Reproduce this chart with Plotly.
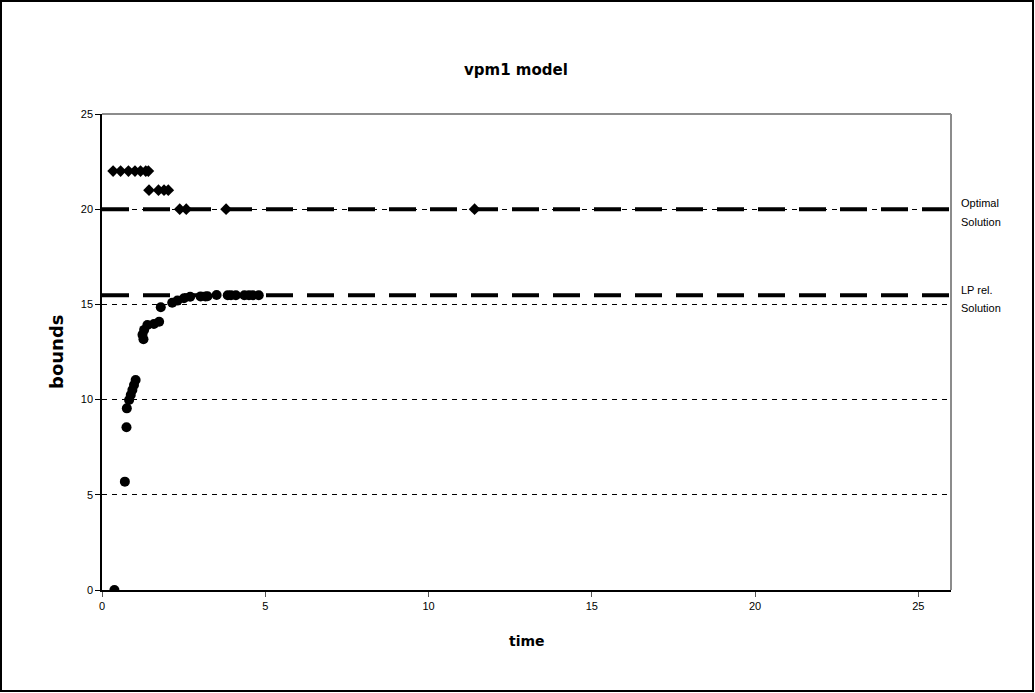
import plotly.graph_objects as go

# ---- data ----
ub_time = [0.34, 0.57, 0.81, 1.01, 1.18, 1.34, 1.42, 1.44, 1.73, 1.90, 2.03, 2.38, 2.58, 3.80, 11.41]
ub_vals = [22, 22, 22, 22, 22, 22, 22, 21, 21, 21, 21, 20, 20, 20, 20]

lb_time = [0.38, 0.70, 0.75, 0.76, 0.83, 0.88, 0.93, 0.98, 1.03, 1.24, 1.27, 1.29, 1.39, 1.59,
           1.75, 1.80, 2.15, 2.31, 2.51, 2.70, 3.02, 3.17, 3.23, 3.51, 3.85, 3.95, 4.10, 4.36,
           4.50, 4.62, 4.80]
lb_vals = [0, 5.69, 8.55, 9.54, 9.98, 10.24, 10.5, 10.77, 11.03, 13.4, 13.17, 13.66, 13.92, 13.97,
           14.09, 14.85, 15.09, 15.2, 15.32, 15.4, 15.42, 15.42, 15.43, 15.49, 15.48, 15.48, 15.48,
           15.48, 15.48, 15.48, 15.48]

optimal = 20
lp_rel = 15.48
x_range = [0, 26]
y_range = [0, 25]
x_ticks = [0, 5, 10, 15, 20, 25]
y_ticks = [0, 5, 10, 15, 20, 25]

FONT = "Arial, Liberation Sans, sans-serif"
WIDE = "DejaVu Sans, Arial, sans-serif"

fig = go.Figure()

# reference lines
for val in (optimal, lp_rel):
    fig.add_trace(go.Scatter(
        x=x_range, y=[val, val], mode="lines",
        line=dict(color="black", width=4, dash="27px,14px"),
        hoverinfo="skip", showlegend=False))

fig.add_trace(go.Scatter(
    x=ub_time, y=ub_vals, mode="markers",
    marker=dict(symbol="diamond", size=9, color="black"),
    name="upper bound", showlegend=False))

fig.add_trace(go.Scatter(
    x=lb_time, y=lb_vals, mode="markers",
    marker=dict(symbol="circle", size=10, color="black"),
    name="lower bound", showlegend=False))

W, H = 1035, 693
L, R, T, B = 102, 84, 114, 103
pw, ph = W - L - R, H - T - B

def px(xp):
    return (xp - L) / pw

def py(yp):
    return (H - B - yp) / ph

fig.update_layout(
    width=W, height=H,
    margin=dict(l=L, r=R, t=T, b=B, pad=0),
    paper_bgcolor="white", plot_bgcolor="white",
    font=dict(family=FONT, size=11, color="black"),
    showlegend=False,
    xaxis=dict(range=x_range, tickvals=x_ticks, showgrid=False, zeroline=False,
               showline=True, linecolor="black", linewidth=1.5,
               ticks="outside", ticklen=5, tickcolor="#555", tickwidth=1,
               tickfont=dict(size=11, family=FONT, color="black")),
    yaxis=dict(range=y_range, tickvals=y_ticks, showgrid=True, gridcolor="black",
               gridwidth=1, griddash="5px,5px", zeroline=False,
               showline=True, linecolor="black", linewidth=1.5,
               ticks="outside", ticklen=5, tickcolor="black", tickwidth=1,
               tickfont=dict(size=11, family=FONT, color="black")),
    shapes=[
        # top & right plot border (gray)
        dict(type="line", xref="paper", yref="paper", x0=0, x1=1, y0=1, y1=1,
             line=dict(color="#8c8c8c", width=2), layer="above"),
        dict(type="line", xref="paper", yref="paper", x0=1, x1=1, y0=0, y1=1,
             line=dict(color="#8c8c8c", width=2), layer="above"),
        # outer frame
        dict(type="rect", xref="paper", yref="paper",
             x0=px(1), x1=px(1033), y0=py(691), y1=py(1),
             line=dict(color="black", width=2), layer="above"),
    ],
    annotations=[
        dict(text="<b>vpm1 model</b>", xref="paper", yref="paper",
             x=px(516), y=py(70), showarrow=False,
             font=dict(size=15, family=WIDE, color="black"),
             xanchor="center", yanchor="middle"),
        dict(text="<b>time</b>", xref="paper", yref="paper",
             x=px(527), y=py(641), showarrow=False,
             font=dict(size=14, family=WIDE, color="black"),
             xanchor="center", yanchor="middle"),
        dict(text="<b>bounds</b>", xref="paper", yref="paper", textangle=-90,
             x=px(56), y=py(352), showarrow=False,
             font=dict(size=18, family=WIDE, color="black"),
             xanchor="center", yanchor="middle"),
        dict(text="Optimal", xref="paper", yref="paper", x=px(959), y=py(203),
             showarrow=False, xanchor="left", yanchor="middle",
             font=dict(size=11, color="black")),
        dict(text="Solution", xref="paper", yref="paper", x=px(959), y=py(222),
             showarrow=False, xanchor="left", yanchor="middle",
             font=dict(size=11, color="black")),
        dict(text="LP rel.", xref="paper", yref="paper", x=px(959), y=py(290),
             showarrow=False, xanchor="left", yanchor="middle",
             font=dict(size=11, color="black")),
        dict(text="Solution", xref="paper", yref="paper", x=px(959), y=py(308),
             showarrow=False, xanchor="left", yanchor="middle",
             font=dict(size=11, color="black")),
    ],
)

fig.write_html("out.html")
